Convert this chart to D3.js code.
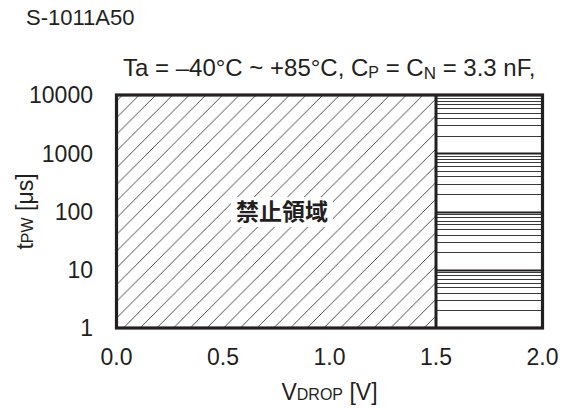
<!DOCTYPE html>
<html>
<head>
<meta charset="utf-8">
<script src="https://cdn.jsdelivr.net/npm/d3@7"></script>
<style>
  html, body { margin: 0; padding: 0; background: #fff; }
  svg { display: block; }
  text { font-family: "Liberation Sans", Arial, Helvetica, sans-serif; fill: #231f20; }
</style>
</head>
<body>
<svg id="chart" width="563" height="408"></svg>
<script>
// Axis ticks and labels
const xTicks = [0, 0.5, 1.0, 1.5, 2.0];
const xTickLabels = ["0.0", "0.5", "1.0", "1.5", "2.0"];
const yTicks = [1, 10, 100, 1000, 10000];
const yTickLabels = ["1", "10", "100", "1000", "10000"];

// Prohibited region: V_DROP from 0 up to this limit, across the full t_PW range
const prohibitedRange = [0, 1.5];
const xDomain = [0, 2.0];
const yDomain = [1, 10000];

const ink = "#231f20";
const svg = d3.select("#chart");

const plotL = 116.5, plotR = 542.5, plotT = 95, plotB = 328;
const x = d3.scaleLinear().domain(xDomain).range([plotL, plotR]);
const y = d3.scaleLog().domain(yDomain).range([plotB, plotT]);

// Diagonal hatch for the prohibited area
const defs = svg.append("defs");
const hs = 16.7;
const pat = defs.append("pattern")
  .attr("id", "hatch")
  .attr("patternUnits", "userSpaceOnUse")
  .attr("width", hs).attr("height", hs)
  .attr("x", plotL + 6).attr("y", plotT);
pat.append("rect").attr("width", hs).attr("height", hs).attr("fill", "#fff");
pat.append("path")
  .attr("d", `M${-hs/2},${hs/2} L${hs/2},${-hs/2} M0,${hs} L${hs},0 M${hs/2},${hs*1.5} L${hs*1.5},${hs/2}`)
  .attr("stroke", ink).attr("stroke-width", 0.8).attr("fill", "none");

svg.append("rect")
  .attr("x", x(prohibitedRange[0])).attr("y", y(yDomain[1]))
  .attr("width", x(prohibitedRange[1]) - x(prohibitedRange[0]))
  .attr("height", y(yDomain[0]) - y(yDomain[1]))
  .attr("fill", "url(#hatch)");

// Log grid in the permitted area (minor ticks from the scale)
const gridTicks = y.ticks();
svg.append("g").selectAll("line")
  .data(gridTicks.filter(d => d > yDomain[0] && d < yDomain[1]))
  .join("line")
  .attr("x1", x(prohibitedRange[1])).attr("x2", x(xDomain[1]))
  .attr("y1", d => Math.round(y(d)) + 0.5).attr("y2", d => Math.round(y(d)) + 0.5)
  .attr("stroke", d => yTicks.includes(d) ? ink : "#3a3a3a")
  .attr("stroke-width", d => yTicks.includes(d) ? 2.2 : 1);

// Region label with a white backing
const lbl = svg.append("g");
const lblX = 282, lblY = 212;
lbl.append("rect")
  .attr("x", lblX - 51).attr("y", lblY - 15)
  .attr("width", 102).attr("height", 30)
  .attr("fill", "#fff");
lbl.append("text")
  .attr("x", lblX).attr("y", lblY)
  .attr("text-anchor", "middle").attr("dy", "0.36em")
  .style("font-family", "'Noto Sans CJK JP', 'Noto Sans CJK SC', sans-serif")
  .style("font-weight", "bold")
  .style("font-size", "23px")
  .text("禁止領域");

// Frame and boundary line
svg.append("line")
  .attr("x1", x(prohibitedRange[1])).attr("x2", x(prohibitedRange[1]))
  .attr("y1", y(yDomain[0])).attr("y2", y(yDomain[1]))
  .attr("stroke", ink).attr("stroke-width", 3);
svg.append("rect")
  .attr("x", plotL).attr("y", plotT)
  .attr("width", plotR - plotL).attr("height", plotB - plotT)
  .attr("fill", "none").attr("stroke", ink).attr("stroke-width", 3.2);

// Tick labels
svg.append("g").selectAll("text")
  .data(xTicks)
  .join("text")
  .attr("x", d => x(d)).attr("y", 365)
  .attr("text-anchor", "middle")
  .style("font-size", "23px")
  .text((d, i) => xTickLabels[i]);

svg.append("g").selectAll("text")
  .data(yTicks)
  .join("text")
  .attr("x", 93).attr("y", d => y(d))
  .attr("dy", "0.36em")
  .attr("text-anchor", "end")
  .style("font-size", "23px")
  .text((d, i) => yTickLabels[i]);

// Axis titles
const xt = svg.append("text")
  .attr("x", (plotL + plotR) / 2).attr("y", 400)
  .attr("text-anchor", "middle")
  .style("font-size", "23px");
xt.append("tspan").text("V");
xt.append("tspan").style("font-size", "16px").text("DROP");
xt.append("tspan").text(" [V]");

const yt = svg.append("text")
  .attr("transform", `translate(33,${(plotT + plotB) / 2}) rotate(-90)`)
  .attr("text-anchor", "middle")
  .style("font-size", "23px");
yt.append("tspan").text("t");
yt.append("tspan").style("font-size", "16px").text("PW");
yt.append("tspan").text(" [μs]");

// Titles
svg.append("text")
  .attr("x", 26).attr("y", 25)
  .style("font-size", "22px")
  .text("S-1011A50");

const st = svg.append("text")
  .attr("x", 123).attr("y", 76)
  .style("font-size", "24px");
st.append("tspan").text("Ta = \u201340\u00B0C ~ +85\u00B0C, C");
st.append("tspan").style("font-size", "16px").attr("dy", 1.5).text("P");
st.append("tspan").attr("dy", -1.5).text(" = C");
st.append("tspan").style("font-size", "17px").attr("dy", 2.5).text("N");
st.append("tspan").attr("dy", -2.5).text(" = 3.3 nF,");
</script>
</body>
</html>
